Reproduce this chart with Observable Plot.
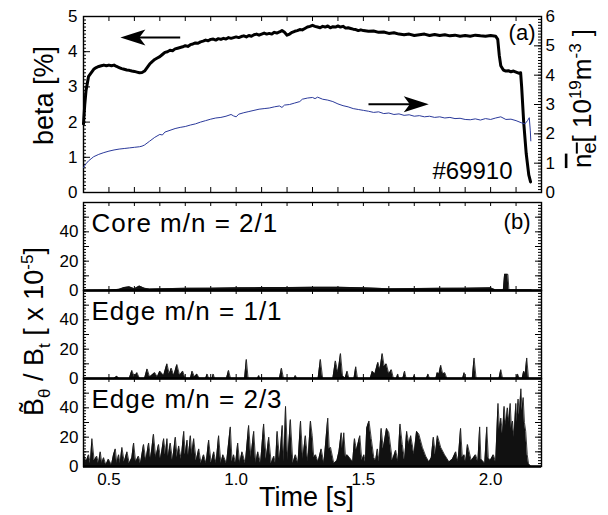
<!DOCTYPE html>
<html>
<head>
<meta charset="utf-8">
<script src="https://cdn.jsdelivr.net/npm/d3@7"></script>
<script src="https://cdn.jsdelivr.net/npm/@observablehq/plot@0.6"></script>
<style>
  html, body { margin: 0; padding: 0; background: #fff; }
  #wrap { position: relative; width: 608px; height: 515px; font-family: "Liberation Sans", Arial, Helvetica, sans-serif; }
  #wrap svg { position: absolute; left: 0; top: 0; overflow: visible; }
</style>
</head>
<body>
<div id="wrap"></div>
<script>
// ---------------- data ----------------
const X_DOMAIN = [0.4, 2.2];
const xTickValues = [0.5, 1.0, 1.5, 2.0];
const betaTickValues = [0, 1, 2, 3, 4, 5];
const neTickValues = [0, 1, 2, 3, 4, 5, 6];
const bTickValues = [0, 20, 40];
const bMajorTicks = [0, 10, 20, 30, 40, 50];
const panelNames = ["Core m/n = 2/1", "Edge m/n = 1/1", "Edge m/n = 2/3"];
const shotLabel = "#69910";
const panelATag = "(a)";
const panelBTag = "(b)";
const xLabel = "Time [s]";
const betaLabel = "beta [%]";

// beta [%] vs time [s]
const betaSeries = [
  [0.400,1.95],[0.405,2.50],[0.410,2.90],[0.415,3.10],[0.420,3.30],[0.430,3.40],[0.440,3.50],[0.450,3.55],
  [0.460,3.58],[0.470,3.60],[0.480,3.62],[0.490,3.60],[0.500,3.62],[0.510,3.60],[0.520,3.62],[0.530,3.58],
  [0.540,3.55],[0.550,3.52],[0.560,3.50],[0.570,3.48],[0.580,3.47],[0.590,3.45],[0.600,3.44],[0.610,3.42],
  [0.620,3.40],[0.630,3.41],[0.640,3.45],[0.650,3.55],[0.660,3.65],[0.670,3.72],[0.680,3.78],[0.690,3.82],
  [0.700,3.86],[0.710,3.92],[0.720,3.98],[0.730,4.00],[0.740,4.04],[0.750,4.03],[0.760,4.08],[0.770,4.10],
  [0.780,4.12],[0.790,4.14],[0.800,4.17],[0.810,4.15],[0.820,4.20],[0.830,4.22],[0.840,4.25],[0.850,4.24],
  [0.860,4.28],[0.870,4.30],[0.880,4.33],[0.890,4.31],[0.900,4.35],[0.910,4.36],[0.920,4.33],[0.930,4.37],
  [0.940,4.35],[0.950,4.38],[0.960,4.36],[0.970,4.40],[0.980,4.38],[0.990,4.40],[1.000,4.42],[1.010,4.40],
  [1.020,4.43],[1.030,4.45],[1.040,4.42],[1.050,4.46],[1.060,4.44],[1.070,4.48],[1.080,4.50],[1.090,4.47],
  [1.100,4.50],[1.110,4.53],[1.120,4.50],[1.130,4.52],[1.140,4.50],[1.150,4.55],[1.160,4.53],[1.170,4.56],
  [1.180,4.60],[1.190,4.55],[1.200,4.47],[1.210,4.50],[1.220,4.55],[1.230,4.58],[1.240,4.60],[1.250,4.63],
  [1.260,4.62],[1.270,4.66],[1.280,4.70],[1.290,4.72],[1.300,4.75],[1.310,4.72],[1.320,4.70],[1.330,4.68],
  [1.340,4.72],[1.350,4.70],[1.360,4.73],[1.370,4.68],[1.380,4.71],[1.390,4.70],[1.400,4.73],[1.410,4.70],
  [1.420,4.72],[1.430,4.67],[1.440,4.68],[1.450,4.66],[1.460,4.64],[1.470,4.63],[1.480,4.60],[1.490,4.62],
  [1.500,4.60],[1.520,4.58],[1.540,4.59],[1.560,4.55],[1.580,4.56],[1.600,4.52],[1.620,4.54],[1.640,4.50],
  [1.660,4.48],[1.680,4.50],[1.700,4.46],[1.720,4.48],[1.740,4.50],[1.760,4.46],[1.780,4.49],[1.800,4.46],
  [1.820,4.48],[1.840,4.45],[1.860,4.47],[1.880,4.44],[1.900,4.46],[1.920,4.44],[1.940,4.47],[1.960,4.45],
  [1.980,4.44],[2.000,4.46],[2.020,4.44],[2.028,4.35],[2.034,3.90],[2.040,3.60],[2.050,3.48],[2.060,3.45],
  [2.070,3.46],[2.080,3.43],[2.090,3.45],[2.100,3.42],[2.110,3.39],[2.118,3.40],[2.122,3.00],[2.130,2.00],
  [2.140,1.10],[2.150,0.50],[2.157,0.30]
];

// line-averaged density [10^19 m^-3] vs time [s]
const neSeries = [
  [0.400,0.85],[0.410,0.98],[0.420,1.08],[0.430,1.15],[0.440,1.22],[0.460,1.30],[0.480,1.36],[0.500,1.41],
  [0.520,1.45],[0.540,1.48],[0.560,1.50],[0.580,1.52],[0.600,1.54],[0.620,1.56],[0.630,1.58],[0.640,1.62],
  [0.660,1.75],[0.680,1.88],[0.700,1.98],[0.710,1.96],[0.720,2.06],[0.740,2.12],[0.760,2.18],[0.780,2.22],
  [0.800,2.25],[0.820,2.30],[0.840,2.34],[0.860,2.40],[0.880,2.45],[0.900,2.50],[0.920,2.54],[0.940,2.56],
  [0.960,2.60],[0.980,2.66],[0.990,2.61],[1.000,2.58],[1.010,2.67],[1.030,2.72],[1.050,2.76],[1.070,2.80],
  [1.090,2.84],[1.110,2.86],[1.130,2.88],[1.150,2.92],[1.170,2.95],[1.180,2.90],[1.190,2.98],[1.210,3.00],
  [1.230,3.05],[1.250,3.10],[1.260,3.18],[1.280,3.22],[1.300,3.24],[1.310,3.20],[1.320,3.25],[1.340,3.18],
  [1.360,3.15],[1.380,3.10],[1.400,3.02],[1.420,2.96],[1.440,2.92],[1.460,2.86],[1.480,2.83],[1.500,2.80],
  [1.520,2.77],[1.540,2.73],[1.560,2.75],[1.580,2.69],[1.600,2.71],[1.620,2.66],[1.640,2.68],[1.660,2.63],
  [1.680,2.65],[1.700,2.60],[1.720,2.62],[1.740,2.58],[1.760,2.60],[1.780,2.56],[1.800,2.58],[1.820,2.54],
  [1.840,2.56],[1.860,2.52],[1.880,2.53],[1.900,2.49],[1.920,2.48],[1.940,2.51],[1.960,2.47],[1.980,2.52],
  [2.000,2.49],[2.020,2.54],[2.040,2.58],[2.060,2.49],[2.080,2.50],[2.100,2.45],[2.120,2.38],[2.135,2.34],
  [2.145,2.45],[2.152,2.55],[2.156,2.10],[2.158,1.76]
];

// fluctuation amplitude [x 10^-5]
const coreSeries = [
  [0.400,0],[0.500,0.2],[0.540,0.8],[0.560,2.0],[0.580,2.5],[0.600,1.2],[0.620,3.0],[0.640,1.5],[0.660,1.0],
  [0.700,1.2],[0.800,1.5],[0.900,1.6],[1.000,1.8],[1.100,2.0],[1.200,2.0],[1.300,2.2],[1.400,2.2],[1.500,1.8],
  [1.600,1.2],[1.700,1.3],[1.800,1.5],[1.900,1.6],[2.000,1.8],[2.020,0.4],[2.050,0.4],[2.055,11],[2.068,11],
  [2.072,0.4],[2.160,0.4]
];
const edge11Series = [
  [0.520,0],[0.531,1.5],[0.540,0],[0.580,0],[0.590,5.5],[0.600,1],[0.610,4],[0.620,0],
  [0.640,0],[0.650,6.5],[0.660,1],[0.680,4],[0.690,1],[0.700,5],[0.715,2],[0.728,10],[0.737,3],[0.745,7],
  [0.755,2],[0.767,9.5],[0.778,2],[0.790,5],[0.800,0],[0.820,0],[0.827,5],[0.836,1],[0.846,3],[0.855,0],
  [0.880,0],[0.886,3],[0.892,0],[0.905,0],[0.910,3],[0.915,0],[0.962,0],[0.970,5.5],[0.978,0],
  [1.033,0],[1.040,13],[1.047,0],[1.084,0],[1.089,2],[1.094,0],[1.170,0],[1.178,7],[1.186,0],
  [1.228,0],[1.233,2],[1.238,0],[1.322,0],[1.331,13],[1.340,0],[1.380,0],[1.390,12],[1.400,4],[1.410,17],
  [1.418,2],[1.428,0],[1.436,5],[1.443,0],[1.463,0],[1.470,8],[1.477,0],[1.527,0],[1.535,5],[1.545,3],
  [1.557,11],[1.565,6],[1.574,17],[1.582,8],[1.590,10],[1.600,3],[1.610,6],[1.618,0],[1.630,0],[1.635,3],
  [1.640,0],[1.655,0],[1.662,5],[1.668,0],[1.695,0],[1.700,2],[1.705,0],[1.748,0],[1.754,3],[1.760,0],
  [1.785,0],[1.790,4],[1.797,3],[1.804,9],[1.812,3],[1.820,4],[1.828,0],[1.890,0],[1.896,4],[1.902,0],
  [1.928,0],[1.935,14],[1.943,0],[2.033,0],[2.040,6],[2.047,0],[2.100,0],[2.106,3],[2.113,0],[2.124,0],
  [2.130,5],[2.136,3],[2.142,14],[2.149,0]
];
const edge23Series = [
  [0.400,9],[0.410,3],[0.420,8],[0.427,2],[0.433,19],[0.442,4],[0.452,7],[0.459,2],[0.466,10],[0.472,2],
  [0.479,6],[0.488,1],[0.498,5],[0.510,1],[0.518,8],[0.525,12],[0.531,2],[0.538,8],[0.544,2],[0.551,13],
  [0.560,3],[0.571,10],[0.580,2],[0.590,6],[0.597,16],[0.605,3],[0.616,7],[0.624,2],[0.636,15],[0.645,4],
  [0.656,16],[0.664,5],[0.675,22],[0.684,6],[0.695,15],[0.703,5],[0.715,19],[0.722,8],[0.728,19],[0.734,7],
  [0.741,16],[0.750,4],[0.761,20],[0.768,6],[0.774,14],[0.784,5],[0.794,24],[0.800,8],[0.807,18],[0.813,7],
  [0.820,21],[0.826,8],[0.833,19],[0.843,4],[0.853,12],[0.862,2],[0.872,8],[0.882,2],[0.892,18],[0.902,2],
  [0.912,10],[0.921,2],[0.931,21],[0.940,2],[0.948,8],[0.962,2],[0.977,27],[0.984,3],[0.990,8],[0.998,2],
  [1.006,16],[1.014,2],[1.023,10],[1.036,2],[1.049,28],[1.058,6],[1.069,24],[1.077,2],[1.085,10],[1.096,2],
  [1.108,29],[1.118,5],[1.128,20],[1.138,2],[1.148,7],[1.155,2],[1.161,24],[1.171,4],[1.181,28],[1.188,3],
  [1.194,41],[1.203,4],[1.213,32],[1.223,2],[1.233,8],[1.243,2],[1.253,31],[1.262,5],[1.272,21],[1.282,3],
  [1.292,31],[1.299,21],[1.305,6],[1.312,8],[1.322,3],[1.334,12],[1.345,2],[1.360,33],[1.366,12],[1.371,13],
  [1.384,2],[1.396,4],[1.404,10],[1.413,23],[1.418,12],[1.423,23],[1.430,6],[1.436,8],[1.450,5],[1.458,3],
  [1.465,19],[1.473,11],[1.486,21],[1.494,4],[1.502,8],[1.508,3],[1.513,26],[1.522,31],[1.531,19],[1.541,6],
  [1.548,4],[1.555,12],[1.562,3],[1.570,26],[1.578,12],[1.591,26],[1.600,23],[1.614,4],[1.627,11],[1.636,3],
  [1.644,29],[1.653,15],[1.662,4],[1.670,24],[1.679,15],[1.686,21],[1.699,8],[1.709,24],[1.718,22],[1.732,13],
  [1.745,7],[1.758,3],[1.767,6],[1.775,20],[1.783,8],[1.791,21],[1.804,13],[1.819,8],[1.837,3],[1.850,5],
  [1.863,10],[1.872,3],[1.882,26],[1.889,6],[1.896,8],[1.902,3],[1.909,15],[1.924,4],[1.941,8],[1.950,3],
  [1.957,27],[1.962,5],[1.968,4],[1.977,2],[1.985,27],[1.991,6],[1.998,4],[2.011,8],[2.020,3],[2.029,43],
  [2.035,25],[2.040,33],[2.047,22],[2.053,41],[2.060,28],[2.066,40],[2.072,30],[2.077,43],[2.082,26],[2.086,31],
  [2.092,20],[2.099,43],[2.104,30],[2.108,46],[2.113,35],[2.119,53],[2.124,38],[2.128,47],[2.133,30],[2.138,24],
  [2.144,8],[2.149,2],[2.158,0]
];

// annotation arrows (time, value)
const betaArrow = [{from: 0.78, to: 0.545, level: 4.40}];
const neArrow = [{from: 1.52, to: 1.757, level: 3.01}];

// ---------------- drawing ----------------
const FONT = '"Liberation Sans", Arial, Helvetica, sans-serif';
const W = 608;
const M = {left: 83, right: 67};
const FW = W - M.left - M.right;   // frame width in px
const TOP_H = 176;                 // top frame height in px
const FACET_H = 88;                // each lower panel height in px
const baseStyle = {fontFamily: FONT, fontSize: "17px", background: "transparent", overflow: "visible", color: "#000"};
const NE_BLUE = "#2b3a9b";

const stealth = {
  draw(ctx) {
    ctx.moveTo(0, 0);
    ctx.lineTo(-25, -8);
    ctx.lineTo(-19, 0);
    ctx.lineTo(-25, 8);
    ctx.closePath();
  }
};

// inward tick marks
const leftTicks = (vals, len) => Plot.tickY(vals, {y: d => d, insetRight: FW - len, stroke: "#000", strokeWidth: 1});
const rightTicks = (vals, len) => Plot.tickY(vals, {y: d => d, insetLeft: FW - len, stroke: "#000", strokeWidth: 1});
const bottomTicks = (vals, len, h) => Plot.tickX(vals, {x: d => d, insetTop: h - len, stroke: "#000", strokeWidth: 1});
const topTicks = (vals, len, h) => Plot.tickX(vals, {x: d => d, insetBottom: h - len, stroke: "#000", strokeWidth: 1});
const labelOnly = (fn, o) => fn({label: null, tickSize: 0, ...o});

const betaMinor = d3.ticks(0, 5, 50);
const neMinor = d3.ticks(0, 6, 60);
const bMinor = d3.ticks(0, 60, 30);
const xMinor = d3.ticks(0.4, 2.2, 18);

const toRows = (arr) => arr.map(([t, v]) => ({t, v}));
const betaRows = toRows(betaSeries);
const neRows = toRows(neSeries);

const topPlot = Plot.plot({
  width: W, height: 200,
  marginLeft: M.left, marginRight: M.right, marginTop: 16, marginBottom: 8,
  style: baseStyle,
  x: {domain: X_DOMAIN, axis: null},
  y: {domain: [0, 5]},
  marks: [
    leftTicks(betaMinor, 3),
    leftTicks(betaTickValues, 7),
    bottomTicks(xMinor, 5, TOP_H),
    topTicks(xMinor, 5, TOP_H),
    Plot.frame({strokeWidth: 1.4}),
    labelOnly(Plot.axisY, {anchor: "left", ticks: betaTickValues, tickPadding: 6, tickFormat: d3.format("d")}),
    Plot.line(betaRows, {x: "t", y: "v", stroke: "#000", strokeWidth: 3, strokeLinejoin: "round"}),
    Plot.link(betaArrow, {x1: "from", x2: d => d.to + 0.06, y1: "level", y2: "level", stroke: "#000", strokeWidth: 2}),
    Plot.dot(betaArrow, {x: "to", y: "level", symbol: stealth, rotate: 180, fill: "#000", stroke: "none"}),
    Plot.text([panelATag], {frameAnchor: "top-right", textAnchor: "end", lineAnchor: "bottom", dx: -6, dy: 23, fontSize: 22}),
    Plot.text([shotLabel], {frameAnchor: "bottom-right", textAnchor: "end", lineAnchor: "bottom", dx: -29, dy: -14, fontSize: 24}),
    Plot.text([betaLabel], {frameAnchor: "left", textAnchor: "middle", lineAnchor: "middle", rotate: -90, dx: -39, dy: -9, fontSize: 27})
  ]
});

const nePlot = Plot.plot({
  width: W, height: 200,
  marginLeft: M.left, marginRight: M.right, marginTop: 16, marginBottom: 8,
  style: baseStyle,
  x: {domain: X_DOMAIN, axis: null},
  y: {domain: [0, 6]},
  marks: [
    rightTicks(neMinor, 3),
    rightTicks(neTickValues, 7),
    labelOnly(Plot.axisY, {anchor: "right", ticks: neTickValues, tickPadding: 4, tickFormat: d3.format("d")}),
    Plot.line(neRows, {x: "t", y: "v", stroke: NE_BLUE, strokeWidth: 1}),
    Plot.link(neArrow, {x1: "from", x2: d => d.to - 0.06, y1: "level", y2: "level", stroke: "#000", strokeWidth: 2}),
    Plot.dot(neArrow, {x: "to", y: "level", symbol: stealth, rotate: 0, fill: "#000", stroke: "none"}),
    Plot.text(["NE_LABEL"], {frameAnchor: "right", textAnchor: "middle", lineAnchor: "middle", rotate: -90, dx: 41, dy: -6, fontSize: 26})
  ]
});

const sig = [
  ...coreSeries.map(([t, v]) => ({panel: panelNames[0], t, v})),
  ...edge11Series.map(([t, v]) => ({panel: panelNames[1], t, v})),
  ...edge23Series.map(([t, v]) => ({panel: panelNames[2], t, v}))
];

const botPlot = Plot.plot({
  width: W, height: 515,
  marginLeft: M.left, marginRight: M.right, marginTop: 202, marginBottom: 49,
  style: baseStyle,
  x: {domain: X_DOMAIN},
  y: {domain: [0, 60]},
  fy: {domain: panelNames, padding: 0, axis: null},
  marks: [
    leftTicks(bMinor, 3),
    leftTicks(bMajorTicks, 6),
    rightTicks(bMinor, 3),
    rightTicks(bMajorTicks, 6),
    bottomTicks(xMinor, 4, FACET_H),
    topTicks(xMinor, 4, FACET_H),
    Plot.areaY(sig, {x: "t", y: "v", fy: "panel", fill: "#111", curve: "linear"}),
    Plot.lineY(sig, {x: "t", y: "v", fy: "panel", stroke: "#111", strokeWidth: 0.8}),
    Plot.ruleY([0], {strokeWidth: 2.6}),
    Plot.frame({strokeWidth: 1.4}),
    labelOnly(Plot.axisY, {anchor: "left", ticks: bTickValues, tickPadding: 5, tickFormat: d3.format("d")}),
    labelOnly(Plot.axisX, {anchor: "bottom", ticks: xTickValues, tickPadding: 6, tickFormat: d3.format(".1f")}),
    Plot.text(panelNames, {fy: d => d, text: d => d, frameAnchor: "top-left", textAnchor: "start", lineAnchor: "bottom", dx: 8, dy: 29, fontSize: 26}),
    Plot.text([panelBTag], {fy: () => panelNames[0], frameAnchor: "top-right", textAnchor: "end", lineAnchor: "bottom", dx: -11, dy: 26, fontSize: 22}),
    Plot.text([xLabel], {fy: () => panelNames[2], frameAnchor: "bottom", textAnchor: "middle", lineAnchor: "top", dx: -6, dy: 20, fontSize: 27}),
    Plot.text(["B_LABEL"], {fy: () => panelNames[1], frameAnchor: "left", textAnchor: "middle", lineAnchor: "middle", rotate: -90, dx: -49, dy: -3, fontSize: 27})
  ]
});

const wrap = document.getElementById("wrap");
wrap.append(topPlot, nePlot, botPlot);

// ------- text refinements (letter spacing, sub/superscripts) -------
const findText = (svg, content) => d3.select(svg).selectAll("text").filter(function () { return this.textContent === content; });

panelNames.forEach(n => findText(botPlot, n).attr("letter-spacing", 1));

{
  const t = findText(botPlot, "B_LABEL");
  t.text(null);
  t.append("tspan").text("B\u0303");
  t.append("tspan").attr("font-size", 17).attr("dy", 7).text("\u03b8");
  t.append("tspan").attr("dy", -7).text(" / B");
  t.append("tspan").attr("font-size", 17).attr("dy", 7).text("t");
  t.append("tspan").attr("dy", -7).text(" [ x 10");
  t.append("tspan").attr("font-size", 17).attr("dy", -10).text("-5");
  t.append("tspan").attr("dy", 10).text("]");
}
{
  const t = findText(nePlot, "NE_LABEL");
  t.text(null);
  const ov = t.append("tspan").style("text-decoration", "overline");
  ov.append("tspan").text("n");
  ov.append("tspan").attr("font-size", 20).attr("dy", 5).text("e");
  t.append("tspan").attr("dy", -5).text("[ 10");
  t.append("tspan").attr("font-size", 17).attr("dy", -10).text("19");
  t.append("tspan").attr("dy", 10).text("m");
  t.append("tspan").attr("font-size", 17).attr("dy", -10).text("-3");
  t.append("tspan").attr("dy", 10).text(" ]");
}
</script>
</body>
</html>
